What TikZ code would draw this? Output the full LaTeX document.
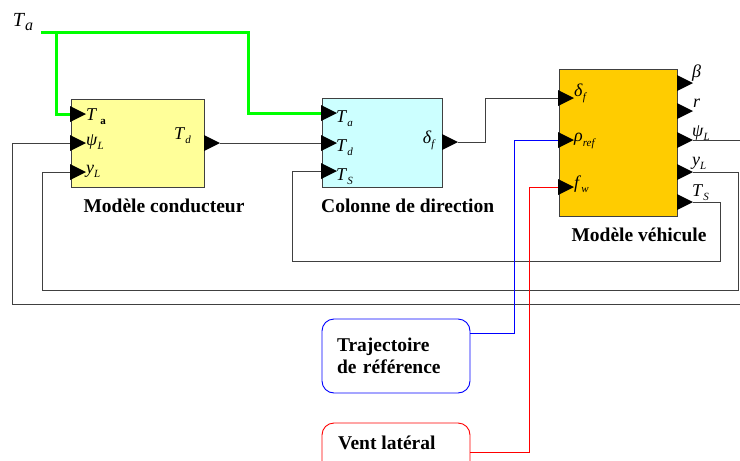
\documentclass[tikz,border=0pt]{standalone}
\usepackage{fontspec}
\setmainfont{Liberation Serif}
\usetikzlibrary{calc}

\definecolor{condfill}{RGB}{255,255,153}
\definecolor{dirfill}{RGB}{204,255,255}
\definecolor{vehfill}{RGB}{255,204,0}
\definecolor{tagreen}{RGB}{0,255,0}

\newcommand{\sig}[2]{\textit{#1}\raisebox{-0.5ex}{\fontsize{11}{11}\selectfont\textit{#2}}}

\tikzset{
    blk/.style={draw=black!75, line width=0.8pt, inner sep=0pt},
    wire/.style={draw=black!75, line width=0.9pt},
    lbl/.style={font=\fontsize{18}{18}\selectfont, inner sep=0pt},
    title/.style={font=\fontsize{19.5}{22}\selectfont\bfseries, inner sep=0pt},
    srcbox/.style={rounded corners=12pt, line width=0.9pt, minimum width=148pt, inner sep=0pt},
}

\begin{document}
\begin{tikzpicture}[x=1pt, y=-1pt]
    \clip (0,0) rectangle (740,461);

    \def\inport#1{%
        \fill (#1) ++(-1,0) -- ++(0,-8) -- ++(16,8) -- ++(-16,8) -- cycle;
    }
    \def\outport#1{%
        \fill (#1) -- ++(-16,-8) -- ++(0,16) -- cycle;
    }

    % blocks
    \node[blk, fill=condfill, minimum width=133pt, minimum height=88pt] (cond) at (137.5,143) {};
    \node[blk, fill=dirfill, minimum width=120pt, minimum height=89pt] (dir) at (382,142.5) {};
    \node[blk, fill=vehfill, minimum width=118pt, minimum height=147pt] (veh) at (618,142.5) {};

    \node[title] (cond-name) at (164,206) {Modèle conducteur};
    \node[title, anchor=west] (dir-name) at (321,206) {Colonne de direction};
    \node[title] (veh-name) at (639,235) {Modèle véhicule};

    % ports
    \coordinate (cond-ta) at (71,114);
    \coordinate (cond-psi) at (71,143);
    \coordinate (cond-yl) at (71,172);
    \coordinate (cond-td) at (220,143);

    \coordinate (dir-ta) at (322,113);
    \coordinate (dir-td) at (322,143);
    \coordinate (dir-ts) at (322,171);
    \coordinate (dir-df) at (458,142);

    \coordinate (veh-df) at (559,98);
    \coordinate (veh-rho) at (559,140);
    \coordinate (veh-fw) at (559,187);
    \coordinate (veh-beta) at (693,83);
    \coordinate (veh-r) at (693,111);
    \coordinate (veh-psi) at (693,140);
    \coordinate (veh-yl) at (693,172);
    \coordinate (veh-ts) at (693,202);

    % port labels
    \node[lbl, anchor=west] (l-cta) at (86,117) {\textit{T}\,\raisebox{-0.5ex}{\fontsize{11}{11}\selectfont\textbf{a}}};
    \node[lbl, anchor=west] (l-cpsi) at (86,142) {\sig{ψ}{L}};
    \node[lbl, anchor=west] (l-cyl) at (86,171) {\sig{y}{L}};
    \node[lbl, anchor=east] (l-ctd) at (191,136) {\sig{T}{d}};

    \node[lbl, anchor=west] (l-dta) at (336,119) {\sig{T}{a}};
    \node[lbl, anchor=west] (l-dtd) at (336,148) {\sig{T}{d}};
    \node[lbl, anchor=west] (l-dts) at (336,177) {\sig{T}{S}};
    \node[lbl, anchor=east] (l-ddf) at (436,140) {\sig{δ}{f}};

    \node[lbl, anchor=west] (l-vdf) at (574,93) {\sig{δ}{f}};
    \node[lbl, anchor=west] (l-vrho) at (574,141) {\sig{ρ}{ref}};
    \node[lbl, anchor=west] (l-vfw) at (574,184) {\sig{f}{w}};
    \node[lbl, anchor=west] (l-vbeta) at (692,73) {\textit{β}};
    \node[lbl, anchor=west] (l-vr) at (693,103) {\textit{r}};
    \node[lbl, anchor=west] (l-vpsi) at (692,133) {\sig{ψ}{L}};
    \node[lbl, anchor=west] (l-vyl) at (692,163) {\sig{y}{L}};
    \node[lbl, anchor=west] (l-vts) at (692,193) {\sig{T}{S}};

    % sources
    \node[lbl, font=\fontsize{20}{20}\selectfont] (ta) at (23,22) {\textit{T}\raisebox{-0.5ex}{\fontsize{16}{16}\selectfont\textit{a}}};
    \coordinate (ta-out) at (41,32);
    \coordinate (ta-split) at (56,32);
    \node[srcbox, draw=blue, minimum height=74pt, text width=118pt, align=left, title] (traj) at (396,356) {Trajectoire\\de référence};
    \node[srcbox, draw=red, minimum height=58pt] (wind) at (396,452) {};
    \node[title, anchor=west] (wind-name) at (338,443) {Vent latéral};

    % connections
    \draw[wire] (cond-td) -- (dir-td);
    \draw[wire] (dir-df) -| (485,98) -- (veh-df);
    \draw[wire] (veh-psi) -| (760,304) -| (12,143) -- (cond-psi);
    \draw[wire] (veh-yl) -| (738,290) -| (42,172) -- (cond-yl);
    \draw[wire] (veh-ts) -| (720,261) -| (292,171) -- (dir-ts);
    \draw[tagreen, line width=3pt] (ta-out) -- (248,32) |- (dir-ta);
    \draw[tagreen, line width=3pt] (ta-split) |- (cond-ta);
    \draw[blue, line width=0.9pt] ($(traj.north east)+(0,15)$) -| (514,140) -- (veh-rho);
    \draw[red, line width=0.9pt] (wind.east) -| (529,187) -- (veh-fw);

    % arrow heads
    \inport{cond-ta} \inport{cond-psi} \inport{cond-yl}
    \outport{cond-td}
    \inport{dir-ta} \inport{dir-td} \inport{dir-ts}
    \outport{dir-df}
    \inport{veh-df} \inport{veh-rho} \inport{veh-fw}
    \outport{veh-beta} \outport{veh-r} \outport{veh-psi} \outport{veh-yl} \outport{veh-ts}
\end{tikzpicture}
\end{document}
